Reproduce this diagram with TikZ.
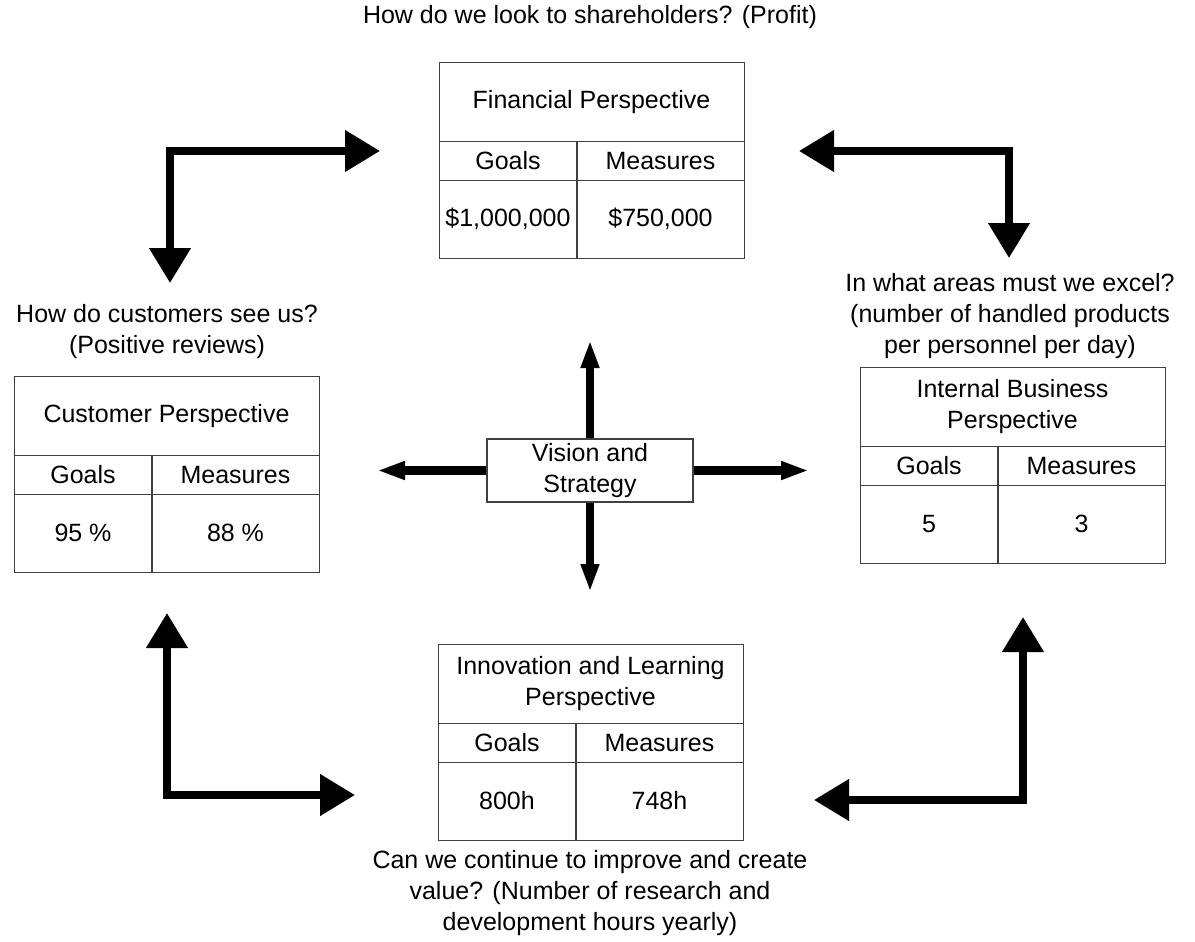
\documentclass[tikz,border=0pt]{standalone}
\usepackage{fontspec}
\setmainfont{Liberation Sans}
\usetikzlibrary{arrows.meta}

% One perspective table: name, left x, top y, title, goal value, measure value
\newcommand{\bsctable}[6]{%
  \node[frame, minimum width=305pt, minimum height=196pt, anchor=north west] (#1) at (#2,#3) {};
  \draw[frame] (#2,#3+79.5) -- (#2+305,#3+79.5);
  \draw[frame] (#2,#3+118.5) -- (#2+305,#3+118.5);
  \draw[frame] (#2+138,#3+79.5) -- (#2+138,#3+196);
  \node (#1-title) at (#2+152.5,#3+40) {#4};
  \node (#1-goalhead) at (#2+69,#3+99) {Goals};
  \node (#1-measurehead) at (#2+221.5,#3+99) {Measures};
  \node (#1-goal) at (#2+69,#3+157) {#5};
  \node (#1-measure) at (#2+221.5,#3+157) {#6};
}

\begin{document}
\begin{tikzpicture}[x=1pt,y=-1pt,
  every node/.style={font=\fontsize{25}{31}\selectfont, inner sep=0pt, align=center},
  frame/.style={draw=black!75, line width=1.2pt},
  bigarrow/.style={line width=7.5pt, line join=miter,
    {Triangle[length=35pt,width=40pt]}-{Triangle[length=35pt,width=40pt]}},
  smallarrow/.style={line width=8.5pt, -{Triangle[length=28pt,width=17pt]}},
]
\useasboundingbox (0,0) rectangle (1195,942);

% the four perspectives
\bsctable{fin}{439}{62}{Financial Perspective}{\$1,000,000}{\$750,000}
\bsctable{cust}{14}{376}{Customer Perspective}{95 \%}{88 \%}
\bsctable{int}{860}{367}{Internal Business\\Perspective}{5}{3}
\bsctable{inn}{438}{644}{Innovation and Learning\\Perspective}{800h}{748h}

% guiding questions
\node (q-fin) at (590,17) {How do we look to shareholders? (Profit)};
\node (q-cust) at (167,332) {How do customers see us?\\(Positive reviews)};
\node (q-int) at (1010,316) {In what areas must we excel?\\(number of handled products\\per personnel per day)};
\node (q-inn) at (590,893) {Can we continue to improve and create\\value? (Number of research and\\development hours yearly)};

% vision and strategy in the centre
\node[frame, fill=white, minimum width=206pt, minimum height=63pt] (vision) at (590,470.5) {Vision and\\Strategy};
\coordinate (v-up) at (590,340);
\coordinate (v-down) at (590,592);
\coordinate (v-left) at (377,470.5);
\coordinate (v-right) at (809,470.5);
\draw[smallarrow] (vision.north) -- (v-up);
\draw[smallarrow] (vision.south) -- (v-down);
\draw[smallarrow] (vision.west) -- (v-left);
\draw[smallarrow] (vision.east) -- (v-right);

% corner arrows between the perspectives
\coordinate (tl-a) at (170,283);
\coordinate (tl-b) at (380,151);
\coordinate (tr-a) at (799,151);
\coordinate (tr-b) at (1009,258);
\coordinate (bl-a) at (167,613);
\coordinate (bl-b) at (355,795);
\coordinate (br-a) at (814,800);
\coordinate (br-b) at (1023,617);
\draw[bigarrow] (tl-a) |- (tl-b);
\draw[bigarrow] (tr-a) -| (tr-b);
\draw[bigarrow] (bl-a) |- (bl-b);
\draw[bigarrow] (br-a) -| (br-b);
\end{tikzpicture}
\end{document}
